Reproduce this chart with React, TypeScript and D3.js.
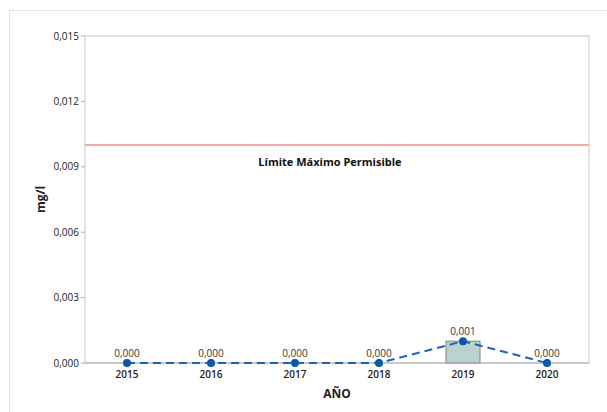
import React from "react";
import * as d3 from "d3";

const years = ["2015", "2016", "2017", "2018", "2019", "2020"];
const values = [0, 0, 0, 0, 0.001, 0];
const yTicks = [0, 0.003, 0.006, 0.009, 0.012, 0.015];
const limitValue = 0.01;
const limitLabel = "Límite Máximo Permisible";

const W = 607;
const H = 412;
const M = { left: 85, right: 589, top: 36, bottom: 363 };
const FONT = "'Open Sans', 'DejaVu Sans', sans-serif";
const fmt = (v: number) => v.toFixed(3).replace(".", ",");

export default function App() {
  const x = d3.scaleBand<string>().domain(years).range([M.left, M.right]).paddingInner(0.6).paddingOuter(0.3);
  const xc = (d: string) => (x(d) as number) + x.bandwidth() / 2;
  const y = d3.scaleLinear().domain([0, 0.015]).range([M.bottom, M.top]);
  const line = d3
    .line<number>()
    .x((_, i) => xc(years[i]))
    .y((v) => y(v));
  const bw = 34;
  return (
    <svg width={W} height={H} style={{ position: "absolute", left: 0, top: 0, background: "#fff" }}>
      <rect x={9.5} y={10.5} width={W} height={H} fill="none" stroke="#e3e3e3" />
      {/* plot frame */}
      <rect x={M.left} y={M.top} width={M.right - M.left} height={M.bottom - M.top} fill="none" stroke="#c8c8c8" />
      {/* y ticks */}
      {yTicks.map((t) => (
        <g key={t}>
          <line x1={M.left - 4} x2={M.left} y1={y(t)} y2={y(t)} stroke="#b0b0b0" />
          <text x={M.left - 6} y={y(t)} dy="0.35em" textAnchor="end" fontSize={10} fontFamily={FONT} fill="#222">
            {fmt(t)}
          </text>
        </g>
      ))}
      {/* limit line */}
      <line x1={M.left} x2={M.right} y1={y(limitValue)} y2={y(limitValue)} stroke="#f08c8c" strokeWidth={1.5} />
      <text x={330} y={166} textAnchor="middle" fontSize={11} fontWeight="bold" fontFamily={FONT} fill="#111">
        {limitLabel}
      </text>
      {/* bars */}
      {years.map((yr, i) => (
        <rect
          key={yr}
          x={xc(yr) - bw / 2}
          y={y(values[i])}
          width={bw}
          height={M.bottom - y(values[i])}
          fill="#b9d3cf"
          stroke="#808080"
          strokeWidth={1}
        />
      ))}
      {/* bottom axis */}
      <line x1={M.left} x2={M.right} y1={M.bottom} y2={M.bottom} stroke="#b0b0b0" />
      {/* dashed line */}
      <path d={line(values) as string} fill="none" stroke="#1f63b4" strokeWidth={2} strokeDasharray="8,5" />
      {years.map((yr, i) => (
        <g key={yr}>
          <circle cx={xc(yr)} cy={y(values[i])} r={4} fill="#0b57a8" />
          <text x={xc(yr)} y={y(values[i]) - 6} textAnchor="middle" fontSize={10} fontFamily={FONT} fill="#333">
            {fmt(values[i])}
          </text>
          <text x={xc(yr)} y={M.bottom + 15} textAnchor="middle" fontSize={10} fontWeight="600" fontFamily={FONT} fill="#222">
            {yr}
          </text>
        </g>
      ))}
      <text x={337} y={398} textAnchor="middle" fontSize={12} fontWeight="bold" fontFamily={FONT} fill="#222">
        AÑO
      </text>
      <text
        transform={`translate(45, ${(M.top + M.bottom) / 2}) rotate(-90)`}
        textAnchor="middle"
        fontSize={12}
        fontWeight="bold"
        fontFamily={FONT}
        fill="#222"
      >
        mg/l
      </text>
    </svg>
  );
}
